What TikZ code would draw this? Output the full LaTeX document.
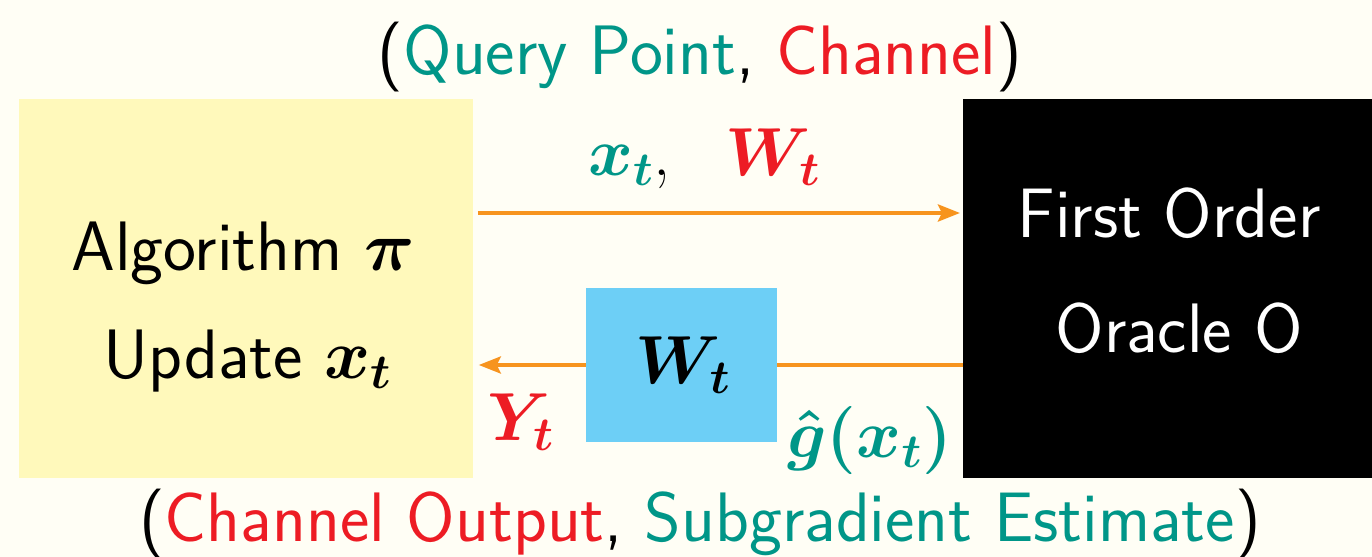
\RequirePackage{fix-cm}
\documentclass[tikz,border=0pt]{standalone}
\usepackage{amsmath,bm}
\usetikzlibrary{arrows.meta}
\definecolor{bg}{RGB}{255,254,245}
\definecolor{algyellow}{RGB}{255,249,187}
\definecolor{chanblue}{RGB}{109,207,246}
\definecolor{flow}{RGB}{247,148,30}
\definecolor{tealc}{RGB}{0,150,136}
\definecolor{redc}{RGB}{237,28,36}
\tikzset{
  txt/.style={font=\sffamily\fontsize{35}{42}\selectfont, inner sep=0pt},
  mth/.style={font=\fontsize{34}{40}\selectfont, inner sep=0pt},
  boxnode/.style={draw=none, inner sep=0pt, anchor=north west},
  flowline/.style={draw=flow, line width=2pt},
  flowarrow/.style={flowline, -{Stealth[length=11pt,width=8.5pt,inset=2pt]}}
}
\begin{document}
\begin{tikzpicture}[x=0.5pt,y=-0.5pt]
\fill[bg] (0,0) rectangle (1372,557);
\useasboundingbox (0,0) rectangle (1372,557);

% boxes
\node[boxnode, fill=algyellow, minimum width=227pt, minimum height=189.5pt] (alg) at (19,99) {};
\node[boxnode, fill=black, minimum width=206pt, minimum height=189.5pt] (oracle) at (963,99) {};

% box texts
\node[txt, anchor=base] (algA) at (243,270) {Algorithm $\boldsymbol{\pi}$};
\node[txt, anchor=base] (algB) at (248,378) {Update $\boldsymbol{x_t}$};
\node[txt, anchor=base, text=white] (orA) at (1169,237) {First Order};
\node[txt, anchor=base, text=white] (orB) at (1179,352) {Oracle O};

% top arrow
\draw[flowarrow] ([shift={(2pt,-57pt)}]alg.north east) -- ([shift={(-1.5pt,-57pt)}]oracle.north west);

% channel box
\node[boxnode, anchor=center, fill=chanblue, minimum width=95.5pt, minimum height=77pt] (chan) at (681.5,365) {};
\node[mth, anchor=base] (chanW) at (683,383) {$\boldsymbol{W_t}$};

% bottom arrow (through channel)
\draw[flowline] (chan.east -| oracle.west) -- (chan.east);
\draw[flowarrow] (chan.west) -- ([xshift=2.5pt]chan.west -| alg.east);

% labels
\node[txt, anchor=base] (top) at (700,74) {(\textcolor{tealc}{Query Point}, \textcolor{redc}{Channel})};
\node[txt, anchor=base] (bot) at (700,541) {(\textcolor{redc}{Channel Output}, \textcolor{tealc}{Subgradient Estimate})};
\node[mth, anchor=base west] (xw) at (588,175) {$\textcolor{tealc}{\boldsymbol{x_t}}$,\hspace{0.8em}$\textcolor{redc}{\boldsymbol{W_t}}$};
\node[mth, anchor=base west] (yt) at (487,440) {$\textcolor{redc}{\boldsymbol{Y_t}}$};
\node[mth, anchor=base west] (gx) at (787,457) {$\textcolor{tealc}{\boldsymbol{\hat{g}(x_t)}}$};
\end{tikzpicture}
\end{document}
